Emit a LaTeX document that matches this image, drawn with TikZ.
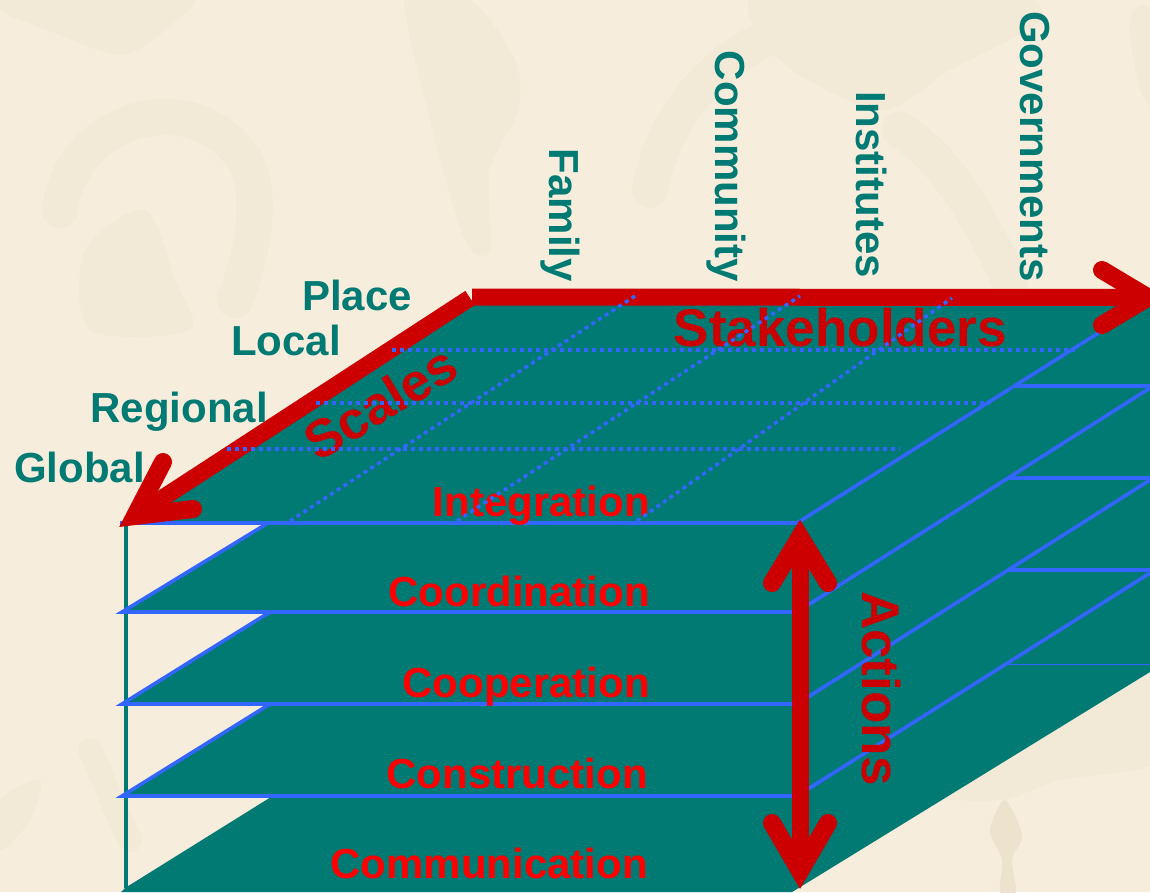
\documentclass[tikz,border=0pt]{standalone}
\usepackage{fontspec}
\setmainfont{Liberation Sans}
\usetikzlibrary{positioning}
\definecolor{paper}{HTML}{F7EDDC}
\definecolor{blotch}{HTML}{F3E9D7}
\definecolor{blotchdark}{HTML}{ECE2CE}
\definecolor{slab}{HTML}{007A73}
\definecolor{edge}{HTML}{3366FF}
\definecolor{deepred}{HTML}{CC0000}
\tikzset{
	axislabel/.style={font=\fontsize{42}{46}\bfseries\selectfont,text=slab,inner sep=0pt},
	levellabel/.style={font=\fontsize{42}{46}\bfseries\selectfont,text=red,inner sep=0pt,anchor=base east},
	axistitle/.style={font=\fontsize{53}{56}\bfseries\selectfont,text=deepred,inner sep=0pt},
	edgeline/.style={draw=edge,line width=3.6pt},
	gridline/.style={draw=edge,line width=3.5pt,dash pattern=on 4pt off 4pt},
	bigarrow/.style={draw=deepred,line width=17pt},
	bighead/.style={draw=deepred,line width=18pt,line cap=round,line join=miter},
	blotchline/.style={draw=blotch,line width=36pt,line cap=round},
	blotchfill/.style={fill=blotch}
}
\begin{document}
\begin{tikzpicture}[x=1pt,y=-1pt]
	\fill[paper] (0,0) rectangle (1150,892);
	\useasboundingbox (0,0) rectangle (1150,892);
	\fill[blotchfill] plot[smooth cycle] coordinates {(0,10) (60,35) (120,55) (165,30) (190,-10) (0,-10)};
	\draw[blotchline] (60,210) .. controls (70,120) and (190,80) .. (245,160) .. controls (265,200) and (250,260) .. (235,300);
	\fill[blotchfill] plot[smooth cycle] coordinates {(85,250) (145,210) (175,280) (190,330) (90,330)};
	\fill[blotchfill] plot[smooth cycle] coordinates {(405,-10) (470,0) (515,60) (518,110) (490,170) (490,250) (465,240) (430,120)};
	\draw[blotchline] (650,190) .. controls (665,110) and (720,50) .. (800,25);
	\fill[blotchfill] plot[smooth cycle] coordinates {(760,-10) (1000,-10) (1040,20) (950,70) (880,110) (780,60)};
	\draw[blotchline] (900,130) .. controls (950,160) and (985,230) .. (1010,280);
	\fill[blotchfill] plot[smooth cycle] coordinates {(1130,20) (1150,10) (1160,110) (1140,90)};
	\fill[blotchfill] plot[smooth cycle] coordinates {(920,790) (1030,720) (1150,680) (1160,760) (1060,780) (1000,800)};
	\fill[blotchfill] plot[smooth cycle] coordinates {(0,800) (40,780) (30,820) (0,850)};
	\draw[blotchline,line width=24pt] (130,840) .. controls (110,800) and (100,770) .. (90,750);
	\fill[blotchdark] plot[smooth cycle] coordinates {(990,830) (1005,800) (1022,835) (1012,860) (1016,892) (1000,892) (1002,860)};
	\fill[slab] (472,300) -- (1150,300) -- (1150,672) -- (797,889) -- (792,892) -- (121,892) -- (125,888) -- (271,797) -- (125,796) -- (270,704) -- (125,704) -- (270,612) -- (125,612) -- (268,523) -- (125,523) -- cycle;
	\coordinate (S0) at (472,297);
	\coordinate (S1) at (1148,297.5);
	\coordinate (S1a) at (1102,270);
	\coordinate (S1b) at (1102,325);
	\coordinate (C0) at (470,298);
	\coordinate (C1) at (135,516);
	\coordinate (C1a) at (163,462);
	\coordinate (C1b) at (193,509);
	\coordinate (A0) at (800,537);
	\coordinate (A0a) at (772,583);
	\coordinate (A0b) at (828,583);
	\coordinate (A1) at (800,871);
	\coordinate (A1a) at (772,823);
	\coordinate (A1b) at (828,823);
	\coordinate (W1) at (126,523);
	\coordinate (W2) at (126,888);
	\draw[slab,line width=3.4pt] (W1) -- (W2);
	\coordinate (L1a) at (120,523);
	\coordinate (L1b) at (797,523);
	\coordinate (L1c) at (1100,332);
	\coordinate (L2a) at (268,523);
	\coordinate (L2b) at (122,612);
	\coordinate (L2c) at (797,612);
	\coordinate (L2d) at (1150,388);
	\coordinate (L3a) at (270,612);
	\coordinate (L3b) at (122,704);
	\coordinate (L3c) at (797,704);
	\coordinate (L3d) at (1150,480);
	\coordinate (L4a) at (270,704);
	\coordinate (L4b) at (122,796);
	\coordinate (L4c) at (797,796);
	\coordinate (L4d) at (1150,573);
	\coordinate (R1a) at (1015,386);
	\coordinate (R1b) at (1150,386);
	\coordinate (R2a) at (1010,478);
	\coordinate (R2b) at (1150,478);
	\coordinate (R3a) at (1008,570);
	\coordinate (R3b) at (1150,570);
	\coordinate (R4a) at (1005,664.5);
	\coordinate (R4b) at (1150,664.5);
	\coordinate (T1) at (472,303);
	\coordinate (T2) at (125,523);
	\draw[edgeline,line width=2pt] (T1) -- (T2);
	\draw[edgeline] (L1a) -- (L1b) -- (L1c);
	\draw[edgeline] (L2a) -- (L2b) -- (L2c) -- (L2d);
	\draw[edgeline] (L3a) -- (L3b) -- (L3c) -- (L3d);
	\draw[edgeline] (L4a) -- (L4b) -- (L4c) -- (L4d);
	\draw[edgeline] (R1a) -- (R1b);
	\draw[edgeline] (R2a) -- (R2b);
	\draw[edgeline] (R3a) -- (R3b);
	\draw[edgeline,line width=1.6pt] (R4a) -- (R4b);
	\node[axislabel,rotate=-90,anchor=base east] (family) at (549,282) {Family};
	\node[axislabel,rotate=-90,anchor=base east] (community) at (715,282) {Community};
	\node[axislabel,rotate=-90,anchor=base east] (institutes) at (856,278) {Institutes};
	\node[axislabel,rotate=-90,anchor=base east] (governments) at (1020,282) {Governments};
	\node[axislabel,anchor=base east] (place) at (412,310) {Place};
	\node[axislabel,anchor=base east] (local) at (341,355) {Local};
	\node[axislabel,anchor=base east] (regional) at (268,422) {Regional};
	\node[axislabel,anchor=base east] (global) at (145,482) {Global};
	\node[levellabel] (integration) at (650,516) {Integration};
	\node[levellabel] (coordination) at (650,606) {Coordination};
	\node[levellabel] (cooperation) at (650,697) {Cooperation};
	\node[levellabel] (construction) at (648,788) {Construction};
	\node[levellabel] (communication) at (648,878) {Communication};
	\draw[bigarrow] (S0) -- (S1);
	\draw[bighead] (S1a) -- (S1) -- (S1b);
	\draw[bigarrow] (C0) -- (C1);
	\draw[bighead] (C1a) -- (C1) -- (C1b);
	\draw[bigarrow] (A0) -- (A1);
	\draw[bighead] (A0a) -- (A0) -- (A0b);
	\draw[bighead] (A1a) -- (A1) -- (A1b);
	\node[axistitle,anchor=base east] (stakeholders) at (1007,346) {Stakeholders};
	\node[axistitle,rotate=31,anchor=base] (scales) at (390,419) {Scales};
	\node[axistitle,rotate=-90,anchor=base west] (actions) at (862,591) {Actions};
	\coordinate (D1a) at (392,350);
	\coordinate (D1b) at (1075,350);
	\coordinate (D2a) at (316,403);
	\coordinate (D2b) at (990,403);
	\coordinate (D3a) at (227,449);
	\coordinate (D3b) at (900,449);
	\coordinate (D4a) at (290,521);
	\coordinate (D4b) at (635,296);
	\coordinate (D5a) at (457,521);
	\coordinate (D5b) at (800,296);
	\coordinate (D6a) at (637,521);
	\coordinate (D6b) at (952,298);
	\draw[gridline] (D1a) -- (D1b);
	\draw[gridline] (D2a) -- (D2b);
	\draw[gridline] (D3a) -- (D3b);
	\draw[gridline] (D4a) -- (D4b);
	\draw[gridline] (D5a) -- (D5b);
	\draw[gridline] (D6a) -- (D6b);
\end{tikzpicture}
\end{document}
